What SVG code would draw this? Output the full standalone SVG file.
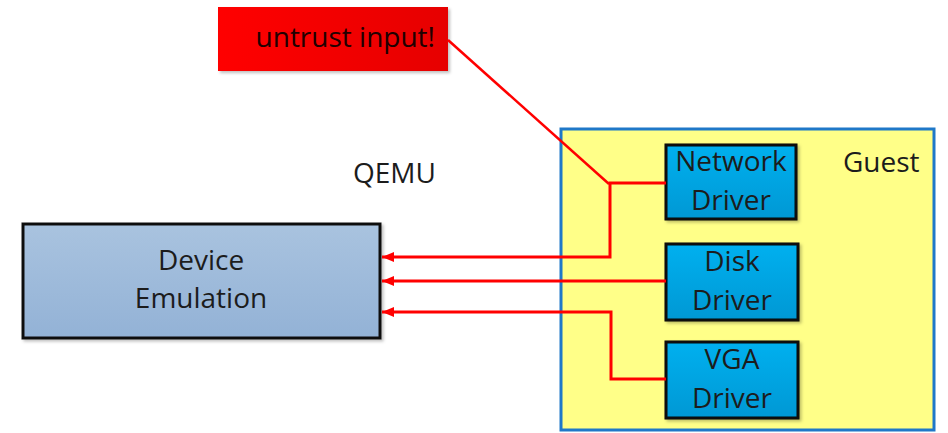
<svg xmlns="http://www.w3.org/2000/svg" width="948" height="433" viewBox="0 0 948 433">
<defs>
<linearGradient id="gDev" x1="0" y1="0" x2="0" y2="1"><stop offset="0" stop-color="#a9c3df"/><stop offset="1" stop-color="#93b2d6"/></linearGradient>
<linearGradient id="gDrv" x1="0" y1="0" x2="0" y2="1"><stop offset="0" stop-color="#00b0ef"/><stop offset="1" stop-color="#0098d4"/></linearGradient>
<linearGradient id="gRed" x1="0" y1="0" x2="1" y2="0"><stop offset="0" stop-color="#ff0000"/><stop offset="1" stop-color="#e60000"/></linearGradient>
<filter id="sh" x="-10%" y="-10%" width="125%" height="130%"><feDropShadow dx="2" dy="2" stdDeviation="1.5" flood-color="#000" flood-opacity="0.25"/></filter>
<marker id="ah" viewBox="0 0 12 10" refX="12" refY="5" markerWidth="12" markerHeight="10" markerUnits="userSpaceOnUse" orient="auto"><path d="M0,0 L12,5 L0,10 Z" fill="#ff0000"/></marker>
</defs>
<style>
text{font-family:"Open Sans","Liberation Sans",sans-serif;font-size:28px;fill:#1c1c1c}
.drv{fill:url(#gDrv);stroke:#0a0a0a;stroke-width:3;filter:url(#sh)}
.wire{fill:none;stroke:#ff0000;stroke-width:3}
.c{text-anchor:middle}
</style>
<rect width="948" height="433" fill="#ffffff"/>
<g id="guest">
<rect x="561" y="129" width="373" height="301" fill="#ffff88" stroke="#1f78c8" stroke-width="3"/>
<text x="843" y="172">Guest</text>
</g>
<text id="qemu-label" x="353" y="183">QEMU</text>
<g id="untrust">
<rect x="218" y="7" width="230" height="64" fill="url(#gRed)" filter="url(#sh)"/>
<text x="435" y="47" text-anchor="end" style="fill:#200000">untrust input!</text>
</g>
<g id="device-emulation">
<rect x="23" y="224" width="357" height="114" fill="url(#gDev)" stroke="#111" stroke-width="3" filter="url(#sh)"/>
<text class="c" x="201" y="270">Device</text>
<text class="c" x="201" y="308">Emulation</text>
</g>
<g id="network-driver">
<rect class="drv" x="666" y="145" width="130" height="74"/>
<text class="c" x="731" y="171">Network</text>
<text class="c" x="731" y="210">Driver</text>
</g>
<g id="disk-driver">
<rect class="drv" x="666" y="244" width="132" height="76"/>
<text class="c" x="732" y="271">Disk</text>
<text class="c" x="732" y="310">Driver</text>
</g>
<g id="vga-driver">
<rect class="drv" x="666" y="342" width="132" height="76"/>
<text class="c" x="732" y="369">VGA</text>
<text class="c" x="732" y="408">Driver</text>
</g>
<g id="connectors">
<path d="M448,40 L609,184" fill="none" stroke="#ff0000" stroke-width="2.5"/>
<path class="wire" d="M666,183 H610 V257 H382" marker-end="url(#ah)"/>
<path class="wire" d="M666,281 H382" marker-end="url(#ah)"/>
<path class="wire" d="M666,379 H611 V312 H382" marker-end="url(#ah)"/>
</g>
</svg>
